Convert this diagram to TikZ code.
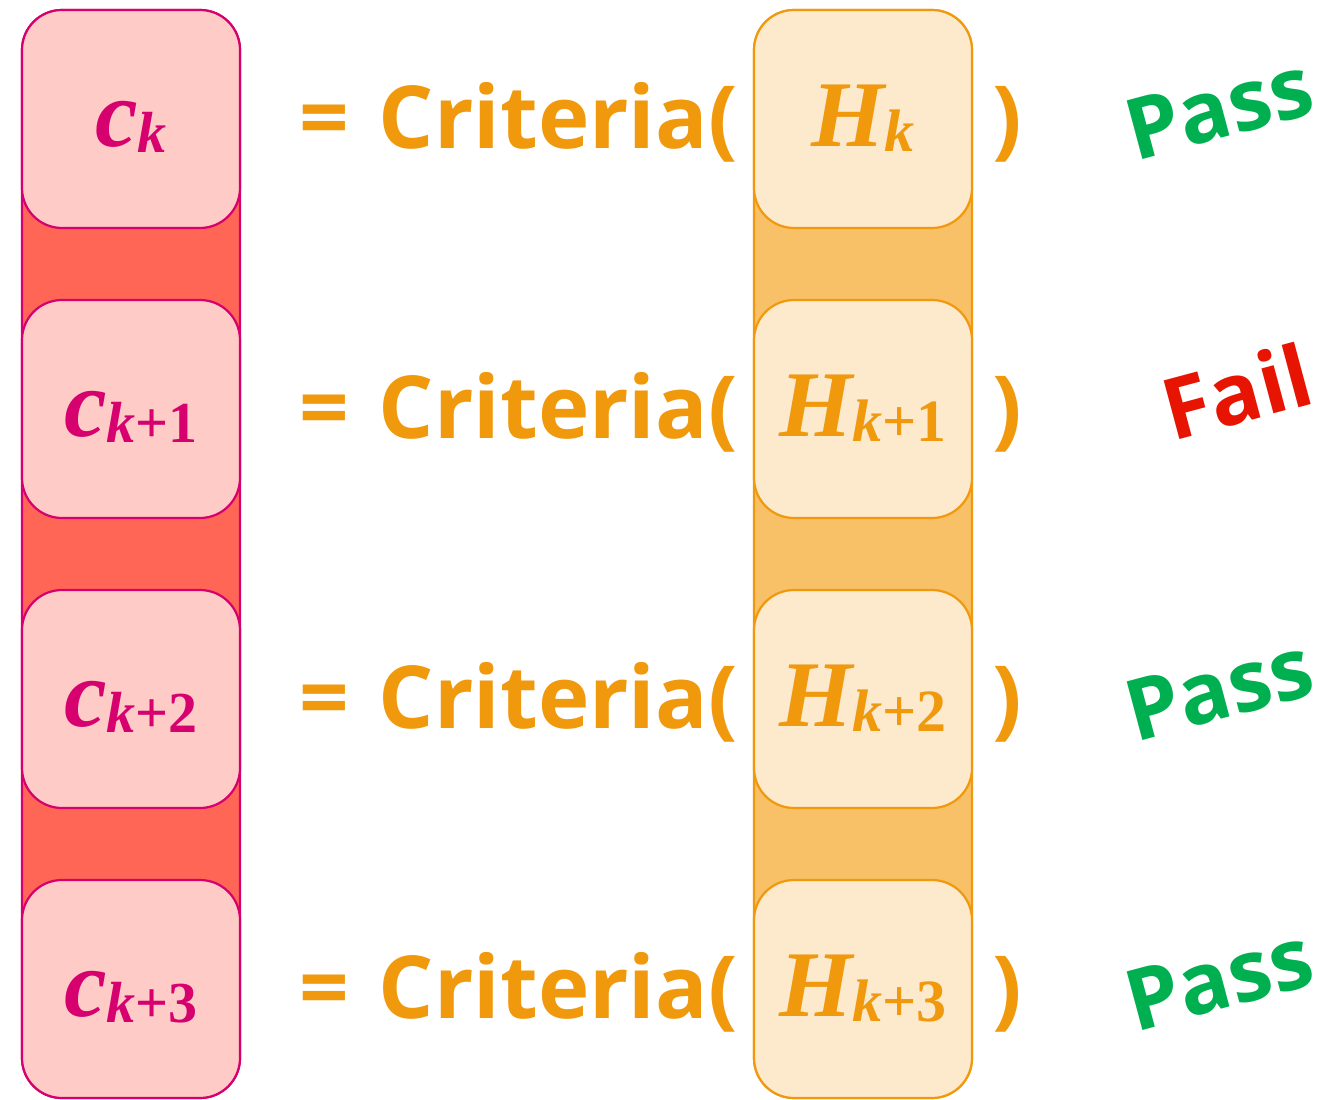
\documentclass[tikz,border=0pt]{standalone}
\usepackage{fontspec}
\setmainfont{Liberation Serif}
\newfontfamily\critfont{Open Sans}
\definecolor{mag}{HTML}{D6006E}
\definecolor{redfill}{HTML}{FF6655}
\definecolor{pinkfill}{HTML}{FECBC7}
\definecolor{org}{HTML}{F0990D}
\definecolor{orgfill}{HTML}{F8C067}
\definecolor{orglight}{HTML}{FDE9CC}
\definecolor{passgreen}{HTML}{00B050}
\definecolor{failred}{HTML}{E61400}
\tikzset{
  colc/.style={draw=mag, fill=redfill, line width=2.2pt, rounded corners=40pt},
  colh/.style={draw=org, fill=orgfill, line width=2.2pt, rounded corners=40pt},
  cbox/.style={draw=mag, fill=pinkfill, line width=2.2pt, rounded corners=40pt, minimum width=218pt, minimum height=218pt, inner sep=0pt},
  hbox/.style={draw=org, fill=orglight, line width=2.2pt, rounded corners=40pt, minimum width=218pt, minimum height=218pt, inner sep=0pt},
  clab/.style={text=mag, anchor=base, inner sep=0pt, font=\bfseries\itshape},
  hlab/.style={text=org, anchor=base, inner sep=0pt, font=\bfseries\itshape},
  crit/.style={text=org, anchor=base west, inner sep=0pt, font=\critfont\bfseries\fontsize{87}{87}\selectfont},
  verdict/.style={anchor=center, inner sep=0pt, rotate=15, font=\critfont\bfseries\fontsize{85}{85}\selectfont},
}
\newcommand{\cvar}[1]{{\fontsize{96}{96}\selectfont c}\raisebox{-6pt}{\fontsize{58}{58}\selectfont k\upshape#1}}
\newcommand{\hvar}[1]{{\fontsize{94}{94}\selectfont H}\raisebox{-5pt}{\fontsize{60}{60}\selectfont k\upshape#1}}
\begin{document}
\begin{tikzpicture}[x=1pt,y=-1pt]
\useasboundingbox (0,0) rectangle (1331,1100);
\node[colc, minimum width=218pt, minimum height=1088pt, inner sep=0pt] (colC) at (131,554) {};
\node[colh, minimum width=218pt, minimum height=1088pt, inner sep=0pt] (colH) at (863,554) {};
\foreach \i/\s in {0/,1/+1,2/+2,3/+3}{
  \pgfmathsetmacro{\yc}{119+290*\i}
  \node[cbox] (c\i) at (131,\yc) {};
  \node[hbox] (h\i) at (863,\yc) {};
  \node[clab] (cl\i) at ([yshift=-27pt]c\i.center) {\cvar{\s}};
  \node[hlab] (hl\i) at ([yshift=-27pt]h\i.center) {\hvar{\s}};
  \node[crit] (eq\i) at (299,\yc+29) {=\kern 30pt Criteria(};
  \node[crit] (rp\i) at (992,\yc+29) {)};
}
\node[verdict, text=passgreen] (v0) at (1219,108) {Pass};
\node[verdict, text=failred] (v1) at (1237,391) {Fail};
\node[verdict, text=passgreen] (v2) at (1219,689) {Pass};
\node[verdict, text=passgreen] (v3) at (1219,979) {Pass};
\end{tikzpicture}
\end{document}
